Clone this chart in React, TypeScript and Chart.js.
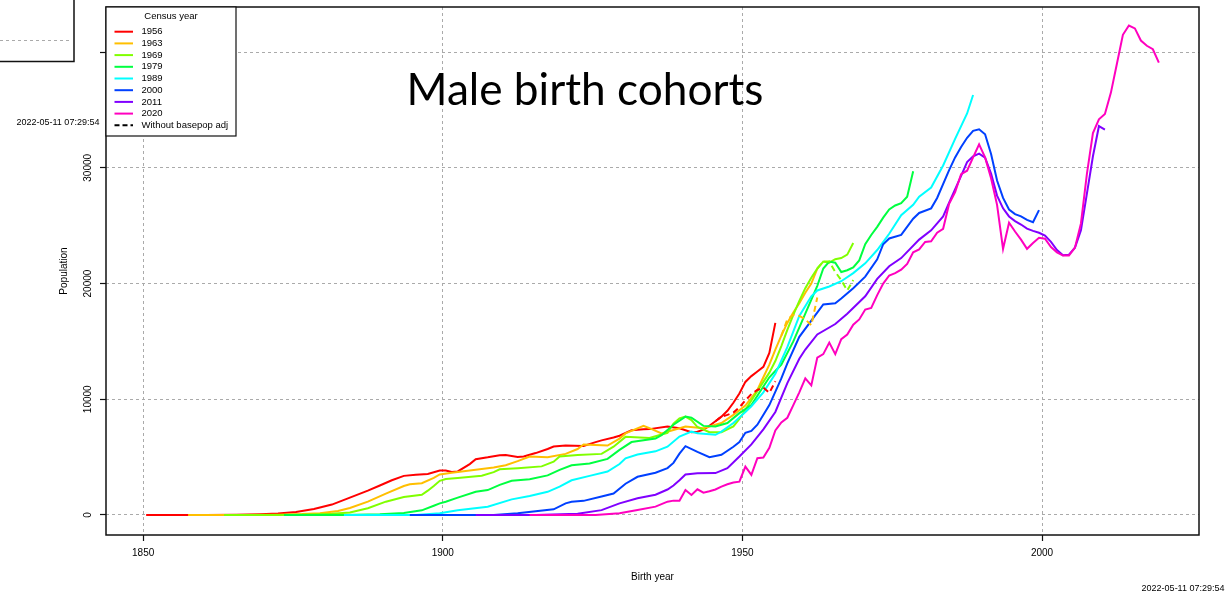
import React, { useEffect, useRef } from 'react';
import { Chart, registerables } from 'chart.js';

Chart.register(...registerables);

// ---------- data ----------
const censusYears = ['1956', '1963', '1969', '1979', '1989', '2000', '2011', '2020'];
const censusColors = ['#FF0000', '#FFBF00', '#80FF00', '#00FF40', '#00FFFF', '#0040FF', '#8000FF', '#FF00BF'];

// [birth year, population]
const cohorts1956: [number, number][] = [
  [1850.5, 0], [1860.5, 0], [1865.5, 20], [1869.5, 60], [1872.5, 120], [1875.5, 250], [1878.5, 520],
  [1881.5, 900], [1884.5, 1500], [1887.5, 2100], [1889.5, 2550], [1891.5, 3000], [1893.5, 3380],
  [1895.5, 3480], [1897.5, 3550], [1899.5, 3840], [1900.5, 3850], [1901.5, 3720], [1902.5, 3760],
  [1904.5, 4400], [1905.5, 4820], [1907.5, 4980], [1909.5, 5170], [1910.5, 5180], [1912.5, 5020],
  [1913.5, 5050], [1915.5, 5350], [1917.5, 5700], [1918.5, 5920], [1920.5, 6000], [1923.5, 5970],
  [1925.5, 6300], [1926.5, 6450], [1928.5, 6700], [1929.5, 6850], [1931.5, 7330], [1933.5, 7400],
  [1934.5, 7420], [1937.5, 7650], [1939.5, 7500], [1941.5, 7150], [1942.5, 7200], [1943.5, 7380],
  [1944.5, 7700], [1945.5, 8100], [1946.5, 8500], [1947.5, 9000], [1948.5, 9700], [1949.5, 10500],
  [1950.5, 11500], [1951.5, 12000], [1952.5, 12400], [1953.5, 12800], [1954.5, 14000], [1955.5, 16600],
];
const cohorts1963: [number, number][] = [
  [1857.5, 0], [1866.5, 0], [1872.5, 30], [1876.5, 80], [1879.5, 160], [1882.5, 350], [1884.5, 600],
  [1887.5, 1150], [1890.5, 1850], [1893.5, 2500], [1894.5, 2650], [1896.5, 2750], [1898.5, 3200],
  [1899.5, 3500], [1901.5, 3650], [1903.5, 3780], [1905.5, 3900], [1908.5, 4100], [1910.5, 4300],
  [1912.5, 4650], [1914.5, 5050], [1917.5, 4990], [1920.5, 5280], [1922.5, 5700], [1923.5, 6100],
  [1925.5, 6050], [1927.5, 6000], [1929.5, 6600], [1930.5, 7050], [1933.5, 7700], [1934.5, 7500],
  [1936.5, 7050], [1938.5, 7350], [1940.5, 7650], [1943.5, 7500], [1945.5, 7800], [1946.5, 7950],
  [1948.5, 8650], [1950.5, 9450], [1952.5, 10800], [1953.5, 11900], [1954.5, 13000], [1955.5, 14300],
  [1956.5, 15500], [1957.5, 16600], [1958.5, 17500], [1959.5, 18300], [1960.5, 19200], [1961.5, 20000],
  [1962.5, 21300],
];
const cohorts1969: [number, number][] = [
  [1863.5, 0], [1872.5, 0], [1877.5, 40], [1881.5, 100], [1884.5, 220], [1887.5, 580], [1890.5, 1150],
  [1893.5, 1550], [1896.5, 1750], [1897.5, 2100], [1898.5, 2500], [1899.5, 2950], [1900.5, 3100],
  [1902.5, 3200], [1906.5, 3400], [1908.5, 3700], [1909.5, 3950], [1912.5, 4040], [1916.5, 4200],
  [1918.5, 4600], [1919.5, 5050], [1922.5, 5190], [1926.5, 5280], [1928.5, 5900], [1930.5, 6750],
  [1934.5, 6650], [1937.5, 7100], [1938.5, 7900], [1939.5, 8350], [1940.5, 8500], [1941.5, 8200],
  [1942.5, 7600], [1944.5, 7150], [1946.5, 7150], [1948.5, 7650], [1949.5, 8300], [1950.5, 9100],
  [1951.5, 9900], [1952.5, 10700], [1953.5, 11500], [1954.5, 12300], [1955.5, 13300], [1956.5, 14600],
  [1957.5, 16000], [1958.5, 17300], [1959.5, 18500], [1960.5, 19600], [1961.5, 20500], [1962.5, 21300],
  [1963.5, 21900], [1964.5, 21800], [1965.5, 22100], [1966.5, 22200], [1967.5, 22500], [1968.5, 23500],
];
const cohorts1979: [number, number][] = [
  [1873.5, 0], [1883.5, 0], [1889.5, 60], [1893.5, 170], [1896.5, 400], [1898.5, 800], [1899.5, 1000],
  [1900.5, 1150], [1902.5, 1500], [1905.5, 2000], [1907.5, 2150], [1909.5, 2600], [1911.5, 2950],
  [1914.5, 3090], [1917.5, 3420], [1919.5, 3900], [1921.5, 4300], [1924.5, 4450], [1927.5, 4850],
  [1929.5, 5630], [1931.5, 6300], [1935.5, 6600], [1936.5, 6900], [1938.5, 7800], [1940.5, 8500],
  [1941.5, 8400], [1943.5, 7700], [1945.5, 7650], [1947.5, 7950], [1949.5, 8800], [1951.5, 9500],
  [1952.5, 10300], [1954.5, 11900], [1956.5, 13000], [1958.5, 15000], [1960.5, 17400], [1962.5, 19800],
  [1963.5, 21300], [1964.5, 21900], [1965.5, 21800], [1966.5, 21000], [1967.5, 21150], [1968.5, 21400],
  [1969.5, 22000], [1970.5, 23400], [1971.5, 24200], [1972.5, 24900], [1973.5, 25700], [1974.5, 26400],
  [1975.5, 26750], [1976.5, 26950], [1977.5, 27500], [1978.5, 29700],
];
const cohorts1989: [number, number][] = [
  [1883.5, 0], [1895.5, 0], [1899.5, 150], [1902.5, 400], [1907.5, 720], [1911.5, 1350], [1914.5, 1640],
  [1917.5, 2000], [1919.5, 2450], [1921.5, 3000], [1924.5, 3380], [1927.5, 3750], [1929.5, 4400],
  [1930.5, 4900], [1932.5, 5230], [1935.5, 5500], [1937.5, 5900], [1939.5, 6780], [1941.5, 7200],
  [1942.5, 7070], [1945.5, 6930], [1946.5, 7200], [1948.5, 7950], [1950.5, 8900], [1951.5, 9400],
  [1953.5, 10600], [1955.5, 12200], [1957.5, 14500], [1959.5, 17200], [1961.5, 18900], [1962.5, 19400],
  [1964.5, 19750], [1966.5, 20200], [1968.5, 20900], [1970.5, 21750], [1972.5, 22900], [1974.5, 24300],
  [1976.5, 25900], [1978.5, 26800], [1979.5, 27500], [1981.5, 28300], [1983.5, 30200], [1985.5, 32500],
  [1987.5, 34700], [1988.5, 36300],
];
const cohorts2000: [number, number][] = [
  [1894.5, 0], [1908.5, 0], [1912.5, 150], [1918.5, 490], [1920.5, 1000], [1921.5, 1150], [1923.5, 1220],
  [1926.5, 1600], [1928.5, 1850], [1930.5, 2700], [1932.5, 3300], [1935.5, 3650], [1937.5, 4050],
  [1938.5, 4500], [1939.5, 5300], [1940.5, 5950], [1942.5, 5450], [1944.5, 4990], [1946.5, 5200],
  [1948.5, 5900], [1949.5, 6300], [1950.5, 7100], [1951.5, 7270], [1952.5, 7800], [1954.5, 9500],
  [1956.5, 11800], [1957.5, 13100], [1959.5, 15400], [1961.5, 16800], [1963.5, 18200], [1965.5, 18300],
  [1966.5, 18700], [1968.5, 19600], [1970.5, 20600], [1972.5, 22100], [1973.5, 23400], [1974.5, 23900],
  [1976.5, 24200], [1978.5, 25600], [1979.5, 26100], [1981.5, 26500], [1982.5, 27400], [1984.5, 29800],
  [1985.5, 30900], [1986.5, 31800], [1987.5, 32600], [1988.5, 33200], [1989.5, 33330], [1990.5, 32900],
  [1991.5, 31200], [1992.5, 28900], [1993.5, 27400], [1994.5, 26400], [1995.5, 26000], [1996.5, 25800],
  [1997.5, 25500], [1998.5, 25300], [1999.5, 26350],
];
const cohorts2011: [number, number][] = [
  [1905.5, 0], [1915.5, 0], [1922.5, 100], [1926.5, 420], [1929.5, 1000], [1932.5, 1450], [1935.5, 1750],
  [1937.5, 2200], [1938.5, 2550], [1939.5, 3000], [1940.5, 3500], [1942.5, 3600], [1945.5, 3620],
  [1947.5, 4050], [1949.5, 5050], [1951.5, 6100], [1953.5, 7400], [1955.5, 8900], [1957.5, 11400],
  [1959.5, 13500], [1960.5, 14300], [1962.5, 15600], [1965.5, 16500], [1967.5, 17400], [1970.5, 18900],
  [1972.5, 20400], [1974.5, 21500], [1976.5, 22200], [1979.5, 23800], [1981.5, 24600], [1983.5, 25800],
  [1984.5, 27000], [1986.5, 29300], [1987.5, 30500], [1988.5, 31000], [1989.5, 31230], [1990.5, 30880],
  [1991.5, 29500], [1992.5, 27600], [1993.5, 26500], [1994.5, 25800], [1995.5, 25400], [1996.5, 25100],
  [1997.5, 24750], [1998.5, 24550], [1999.5, 24390], [2000.5, 24150], [2001.5, 23600], [2002.5, 22900],
  [2003.5, 22450], [2004.5, 22500], [2005.5, 23100], [2006.5, 24600], [2007.5, 27800], [2008.5, 31000],
  [2009.5, 33600], [2010.5, 33300],
];
const cohorts2020: [number, number][] = [
  [1914.5, 0], [1925.5, 0], [1929.5, 150], [1932.5, 430], [1935.5, 720], [1937.5, 1150], [1938.5, 1240],
  [1939.5, 1240], [1940.5, 2160], [1941.5, 1730], [1942.5, 2220], [1943.5, 1930], [1944.5, 2050],
  [1945.5, 2200], [1946.5, 2450], [1947.5, 2650], [1948.5, 2800], [1949.5, 2880], [1950.5, 4180],
  [1951.5, 3460], [1952.5, 4910], [1953.5, 4960], [1954.5, 5800], [1955.5, 7300], [1956.5, 8000],
  [1957.5, 8400], [1958.5, 9500], [1959.5, 10600], [1960.5, 11800], [1961.5, 11200], [1962.5, 13600],
  [1963.5, 13900], [1964.5, 14900], [1965.5, 13900], [1966.5, 15200], [1967.5, 15600], [1968.5, 16450],
  [1969.5, 16900], [1970.5, 17750], [1971.5, 17900], [1972.5, 19000], [1973.5, 20000], [1974.5, 20700],
  [1975.5, 20900], [1976.5, 21200], [1977.5, 21700], [1978.5, 22700], [1979.5, 22950], [1980.5, 23600],
  [1981.5, 23650], [1982.5, 24400], [1983.5, 24730], [1984.5, 26900], [1985.5, 27900], [1986.5, 29450],
  [1987.5, 29750], [1988.5, 30900], [1989.5, 32030], [1990.5, 30900], [1991.5, 29100], [1992.5, 26800],
  [1993.5, 23000], [1994.5, 25250], [1995.5, 24500], [1996.5, 23800], [1997.5, 23000], [1998.5, 23500],
  [1999.5, 23950], [2000.5, 23870], [2001.5, 23150], [2002.5, 22700], [2003.5, 22420], [2004.5, 22420],
  [2005.5, 23100], [2006.5, 25200], [2007.5, 29500], [2008.5, 33000], [2009.5, 34200], [2010.5, 34650],
  [2011.5, 36500], [2012.5, 39000], [2013.5, 41500], [2014.5, 42300], [2015.5, 42050], [2016.5, 41000],
  [2017.5, 40550], [2018.5, 40250], [2019.5, 39100],
];

// "Without basepop adj" (only where it departs from the adjusted series)
const noAdj1956: [number, number][] = [
  [1945.5, 8100], [1946.5, 8500], [1947.5, 8650], [1948.5, 8850], [1949.5, 9300], [1950.5, 9900],
  [1951.5, 10450], [1952.5, 10800], [1953.5, 11000], [1954.5, 10550], [1955.5, 11550],
];
const noAdj1963: [number, number][] = [
  [1956.5, 15500], [1957.5, 16900], [1958.5, 17300], [1959.5, 17200], [1960.5, 16900], [1961.5, 16400],
  [1962.5, 18800],
];
const noAdj1969: [number, number][] = [
  [1962.5, 21300], [1963.5, 21900], [1964.5, 21900], [1965.5, 21000], [1966.5, 20300], [1967.5, 19400],
  [1968.5, 20300],
];

const xTicks = [1850, 1900, 1950, 2000];
const yTicks = [0, 10000, 20000, 30000, 40000];
const yTickLabels = ['0', '10000', '20000', '30000', ''];
const xRange = [1843.8, 2026.2];
const yRange = [-1730, 43900];

const titleText = 'Male birth cohorts';
const legendTitle = 'Census year';
const noAdjLabel = 'Without basepop adj';
const stampText = '2022-05-11 07:29:54';
const xTitle = 'Birth year';
const yTitle = 'Population';

// ---------- chart ----------
const FONT = '"Liberation Sans", Arial, Helvetica, sans-serif';

const overlayPlugin = {
  id: 'overlay',
  afterDraw(chart: any) {
    const { ctx, chartArea: a } = chart;
    ctx.save();

    // plot box
    ctx.strokeStyle = '#111';
    ctx.lineWidth = 1.5;
    ctx.setLineDash([]);
    ctx.strokeRect(a.left, a.top, a.right - a.left, a.bottom - a.top);

    // legend
    const lx = a.left;
    const ly = a.top;
    const lw = 130;
    const lh = 129;
    ctx.fillStyle = '#fff';
    ctx.fillRect(lx, ly, lw, lh);
    ctx.lineWidth = 1.2;
    ctx.strokeStyle = '#111';
    ctx.strokeRect(lx, ly, lw, lh);
    ctx.fillStyle = '#000';
    ctx.font = `9.5px ${FONT}`;
    ctx.textBaseline = 'middle';
    ctx.textAlign = 'center';
    ctx.fillText(legendTitle, lx + 65, ly + 9);
    ctx.textAlign = 'left';
    const items = censusYears.map((t, i) => ({ text: t, color: censusColors[i], dash: [] as number[] }));
    items.push({ text: noAdjLabel, color: '#000', dash: [5, 3] });
    items.forEach((it, i) => {
      const y = ly + 24.7 + i * 11.7;
      ctx.strokeStyle = it.color;
      ctx.lineWidth = 2;
      ctx.setLineDash(it.dash);
      ctx.beginPath();
      ctx.moveTo(lx + 8.5, y);
      ctx.lineTo(lx + 27, y);
      ctx.stroke();
      ctx.setLineDash([]);
      ctx.fillStyle = '#000';
      ctx.fillText(it.text, lx + 35.5, y);
    });

    // big title
    const tf = 'Lato, "Open Sans", sans-serif';
    ctx.font = `40px ${tf}`;
    const w = ctx.measureText(titleText).width;
    const size = (40 * 357) / w;
    ctx.font = `${size}px ${tf}`;
    ctx.textAlign = 'center';
    ctx.textBaseline = 'alphabetic';
    ctx.fillStyle = '#000';
    ctx.fillText(titleText, 585, 105);

    // time stamps
    ctx.font = `9px ${FONT}`;
    ctx.textBaseline = 'middle';
    ctx.textAlign = 'left';
    ctx.fillText(stampText, 16.5, 123);
    ctx.textAlign = 'right';
    ctx.fillText(stampText, 1224.5, 588.5);

    // fragment of a neighbouring panel (top-left)
    ctx.strokeStyle = '#111';
    ctx.lineWidth = 1.5;
    ctx.beginPath();
    ctx.moveTo(74, 0);
    ctx.lineTo(74, 61.5);
    ctx.lineTo(0, 61.5);
    ctx.stroke();
    ctx.strokeStyle = '#aaaaaa';
    ctx.lineWidth = 1;
    ctx.setLineDash([3, 3]);
    ctx.beginPath();
    ctx.moveTo(0, 40.5);
    ctx.lineTo(72, 40.5);
    ctx.stroke();

    ctx.restore();
  },
};

export default function App() {
  const ref = useRef<HTMLCanvasElement | null>(null);

  useEffect(() => {
    if (!ref.current) return;
    const series = [cohorts1956, cohorts1963, cohorts1969, cohorts1979, cohorts1989, cohorts2000, cohorts2011, cohorts2020];
    const noAdj = [
      { idx: 0, pts: noAdj1956 },
      { idx: 1, pts: noAdj1963 },
      { idx: 2, pts: noAdj1969 },
    ];
    const datasets: any[] = series.map((pts, i) => ({
      label: censusYears[i],
      data: pts.map(([x, y]) => ({ x, y })),
      borderColor: censusColors[i],
      backgroundColor: censusColors[i],
      borderWidth: 2,
      pointRadius: 0,
      fill: false,
      tension: 0,
      order: series.length - i,
    }));
    noAdj.forEach(({ idx, pts }) => {
      datasets.push({
        label: noAdjLabel,
        data: pts.map(([x, y]) => ({ x, y })),
        borderColor: censusColors[idx],
        borderWidth: 2,
        borderDash: [6, 4],
        pointRadius: 0,
        fill: false,
        tension: 0,
        order: 0,
      });
    });

    const grid = {
      color: '#aaaaaa',
      lineWidth: 1,
      drawTicks: true,
      tickLength: 6,
      tickColor: '#111',
      tickWidth: 1.2,
      tickBorderDash: [],
    };
    const border = { display: false, dash: [3, 3] };

    const chart = new Chart(ref.current, {
      type: 'line',
      data: { datasets },
      plugins: [overlayPlugin],
      options: {
        animation: false,
        responsive: false,
        devicePixelRatio: 1,
        events: [],
        layout: { padding: { left: 0, top: 7, right: 26, bottom: 0 } },
        plugins: { legend: { display: false }, tooltip: { enabled: false }, title: { display: false } },
        scales: {
          x: {
            type: 'linear',
            min: xRange[0],
            max: xRange[1],
            afterBuildTicks: (s: any) => {
              s.ticks = xTicks.map((v) => ({ value: v }));
            },
            afterFit: (s: any) => {
              s.height = 58;
            },
            grid,
            border,
            ticks: {
              color: '#000',
              font: { family: FONT, size: 10 },
              padding: 6,
              maxRotation: 0,
              autoSkip: false,
              callback: (v: any) => String(v),
            },
            title: {
              display: true,
              text: xTitle,
              color: '#000',
              font: { family: FONT, size: 10 },
              padding: { top: 0, bottom: 10 },
            },
          },
          y: {
            type: 'linear',
            min: yRange[0],
            max: yRange[1],
            afterBuildTicks: (s: any) => {
              s.ticks = yTicks.map((v) => ({ value: v }));
            },
            afterFit: (s: any) => {
              s.width = 106;
            },
            grid,
            border,
            ticks: {
              color: '#000',
              font: { family: FONT, size: 10 },
              padding: -2.6,
              minRotation: 90,
              maxRotation: 90,
              crossAlign: 'center',
              autoSkip: false,
              callback: (v: any) => {
                const k = yTicks.indexOf(Number(v));
                return k >= 0 ? yTickLabels[k] : '';
              },
            },
            title: {
              display: true,
              text: yTitle,
              color: '#000',
              font: { family: FONT, size: 10 },
              padding: { top: 58.7, bottom: 0 },
            },
          },
        },
      } as any,
    });
    return () => chart.destroy();
  }, []);

  return (
    <div style={{ position: 'absolute', left: 0, top: 0, width: 1225, height: 593, background: '#fff' }}>
      <canvas ref={ref} width={1225} height={593} style={{ display: 'block', width: 1225, height: 593 }} />
    </div>
  );
}
